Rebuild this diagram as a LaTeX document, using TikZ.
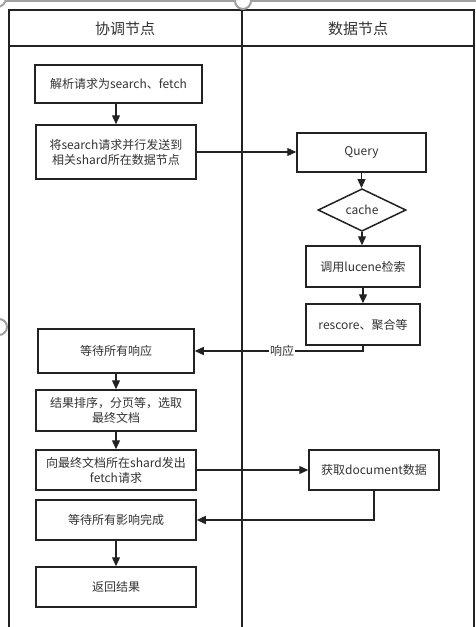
\documentclass[tikz,border=0pt]{standalone}
\usepackage{fontspec}
\setmainfont{Noto Sans CJK SC}
\usepackage{tikz}
\usetikzlibrary{arrows.meta,shapes.geometric}

\begin{document}
\begin{tikzpicture}[x=1pt,y=-1pt]
% Define colours and styles
\definecolor{lineclr}{RGB}{34,34,34}
\definecolor{textclr}{RGB}{51,51,51}
\definecolor{handle}{RGB}{160,160,160}
\tikzset{
  stepbox/.style={draw=lineclr,line width=1.5pt,fill=white,text=textclr,align=center,
    font=\fontsize{12}{15}\selectfont,inner sep=0pt,minimum width=160pt,minimum height=40pt},
  cachebox/.style={diamond,draw=lineclr,line width=1.5pt,fill=white,text=textclr,
    font=\fontsize{12}{15}\selectfont,inner sep=0pt,minimum width=88pt,minimum height=40pt},
  arr/.style={draw=lineclr,line width=1.3pt,-{Triangle[length=9pt,width=8pt]}},
  lanetitle/.style={text=textclr,font=\fontsize{15}{18}\selectfont}
}
\useasboundingbox (0,0) rectangle (476,627);
\clip (0,0) rectangle (476,627);
\fill[white] (0,0) rectangle (476,627);

% Draw swimlanes
\draw[lineclr,line width=1.5pt] (9,10) rectangle (474,640);
\draw[lineclr,line width=1.5pt] (9,46) -- (474,46);
\draw[lineclr,line width=2pt] (242,10) -- (242,640);
\node[lanetitle] (lane1) at (125,29) {协调节点};
\node[lanetitle] (lane2) at (358,29) {数据节点};

% Draw selection handles
\draw[handle,line width=2pt] (0,1) -- (476,1);
\draw[handle,line width=2pt,fill=white] (243,1) circle (8);
\draw[handle,line width=2pt,fill=white] (-1,327) circle (8);
\draw[handle,line width=2pt,fill=white] (-3,-2) circle (9);

% Draw coordinating node steps
\node[stepbox,minimum width=167pt,minimum height=38pt] (parse) at (118.5,84) {解析请求为search、fetch};
\node[stepbox,minimum height=54pt] (send) at (116,152) {将search请求并行发送到\\相关shard所在数据节点};
\node[stepbox,minimum width=156pt,minimum height=44pt] (wait) at (116,351) {等待所有响应};
\node[stepbox,minimum height=41pt] (sort) at (116,410.5) {结果排序，分页等，选取\\最终文档};
\node[stepbox] (fetch) at (116,470) {向最终文档所在shard发出\\fetch请求};
\node[stepbox] (done) at (116,520) {等待所有影响完成};
\node[stepbox] (result) at (116,587) {返回结果};

% Draw data node steps
\node[stepbox,minimum width=129pt,minimum height=39pt] (query) at (361.5,152.5) {Query};
\node[cachebox] (cache) at (362,210) {cache};
\node[stepbox,minimum width=114pt,minimum height=41pt] (lucene) at (363,266.5) {调用lucene检索};
\node[stepbox,minimum width=114pt,minimum height=41pt] (rescore) at (363,324.5) {rescore、聚合等};
\node[stepbox,minimum width=130pt] (docdata) at (374,470) {获取document数据};

% Draw connections
\draw[arr] (parse.south -| send.north) -- (send.north);
\draw[arr] (send.east) -- (send.east -| query.west);
\draw[arr] (query.south) -- (query.south |- cache.north);
\draw[arr] (cache.south) -- (cache.south |- lucene.north);
\draw[arr] (lucene.south) -- (rescore.north);
\draw[arr] (rescore.south) |- (wait.east)
  node[pos=0.74,fill=white,inner sep=1pt,text=textclr,font=\fontsize{12}{15}\selectfont] (reply) {响应};
\draw[arr] (wait.south) -- (sort.north);
\draw[arr] (sort.south) -- (fetch.north);
\draw[arr] (fetch.east) -- (fetch.east -| docdata.west);
\draw[arr] (docdata.south) |- (done.east);
\draw[arr] (done.south) -- (result.north);
\end{tikzpicture}
\end{document}
